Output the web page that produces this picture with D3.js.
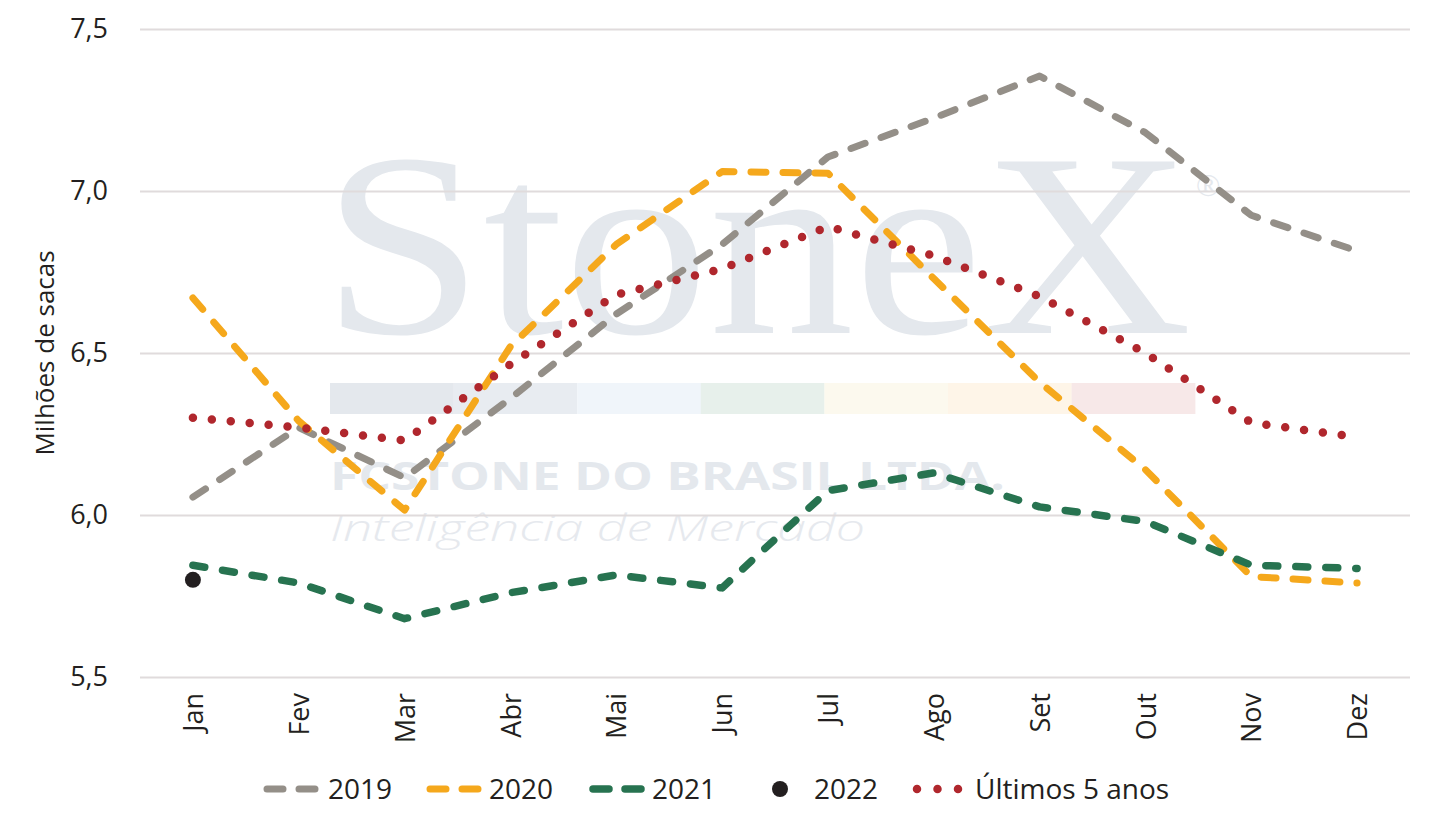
<!DOCTYPE html>
<html><head><meta charset="utf-8">
<script src="https://cdn.jsdelivr.net/npm/d3@7"></script>
<style>
html,body{margin:0;padding:0;background:#fff;}
svg{display:block;font-family:"Open Sans","Noto Sans",sans-serif;}
</style></head>
<body><svg id="c" width="1435" height="827"></svg>
<script>
const months = ["Jan","Fev","Mar","Abr","Mai","Jun","Jul","Ago","Set","Out","Nov","Dez"];
const s2019 = [6.055, 6.27, 6.115, 6.36, 6.62, 6.835, 7.105, 7.225, 7.355, 7.18, 6.925, 6.815];
const s2020 = [6.67, 6.29, 6.015, 6.52, 6.835, 7.06, 7.055, 6.73, 6.41, 6.14, 5.81, 5.79];
const s2021 = [5.845, 5.79, 5.68, 5.76, 5.815, 5.775, 6.075, 6.13, 6.025, 5.98, 5.845, 5.835];
const s2022 = [5.80];
const s5anos = [6.30, 6.27, 6.23, 6.465, 6.68, 6.76, 6.89, 6.80, 6.675, 6.50, 6.285, 6.24];
const yTicks = [5.5, 6.0, 6.5, 7.0, 7.5];
const yTitle = "Milhões de sacas";
const legendLabels = ["2019","2020","2021","2022","Últimos 5 anos"];

const svg = d3.select("#c");
const x = d3.scalePoint().domain(months).range([140, 1410]).padding(0.5);
const y = d3.scaleLinear().domain([5.5, 7.5]).range([677, 29]);
const fmt = d => d.toFixed(1).replace(".", ",");
const txtCol = "#231f20";

// watermark
const wm = svg.append("g");
wm.append("text").attr("x", 322).attr("y", 333)
  .attr("font-family", "'Liberation Serif','DejaVu Serif',serif")
  .attr("font-size", 262).attr("fill", "#e4e8ed")
  .attr("textLength", 870).attr("lengthAdjust", "spacingAndGlyphs")
  .text("StoneX");
wm.append("text").attr("x", 1196).attr("y", 196)
  .attr("font-family", "'Liberation Serif',serif").attr("font-size", 32)
  .attr("fill", "#e4e8ed").text("®");
const barCols = ["#e4e8ed","#e8ecf1","#f0f5fa","#e7f0eb","#fcf9ee","#fef5e8","#f7e8e8"];
barCols.forEach((c,i)=>{
  wm.append("rect").attr("x", 330 + i*123.6).attr("y", 383).attr("width", 123.8).attr("height", 31).attr("fill", c);
});
wm.append("text").attr("x", 330).attr("y", 490)
  .attr("font-family", "'Open Sans',sans-serif").attr("font-weight", 700)
  .attr("font-size", 40).attr("fill", "#e4e8ed")
  .attr("textLength", 675).attr("lengthAdjust", "spacingAndGlyphs")
  .text("FCSTONE DO BRASIL LTDA.");
wm.append("text").attr("x", 330).attr("y", 541)
  .attr("font-family", "'Open Sans',sans-serif").attr("font-weight", 300).attr("font-style", "italic")
  .attr("font-size", 37).attr("fill", "#e6e9ee")
  .attr("textLength", 535).attr("lengthAdjust", "spacingAndGlyphs")
  .text("Inteligência de Mercado");

// grid
const yAxis = d3.axisLeft(y).tickValues(yTicks).tickFormat(fmt).tickSize(-1270).tickPadding(32);
const gy = svg.append("g").attr("transform", "translate(140,0)").call(yAxis);
gy.select(".domain").remove();
gy.selectAll(".tick line").attr("stroke", "#e0dbdc").attr("stroke-width", 2);
gy.selectAll(".tick text").attr("font-size", 27).attr("fill", txtCol)
  .attr("font-family", "'Open Sans',sans-serif");

// x axis labels
const xAxis = d3.axisBottom(x).tickSize(0).tickPadding(0);
const gx = svg.append("g").attr("transform", "translate(0,693)").call(xAxis);
gx.select(".domain").remove();
gx.selectAll(".tick text").attr("font-size", 27).attr("fill", txtCol)
  .attr("font-family", "'Open Sans',sans-serif")
  .attr("text-anchor", "end").attr("y", 0).attr("x", 0)
  .attr("transform", "rotate(-90)").attr("dy", "0.36em");

// y title
svg.append("text").attr("transform", "translate(54,353) rotate(-90)")
  .attr("text-anchor", "middle").attr("font-size", 26).attr("fill", txtCol)
  .text(yTitle);

const line = d3.line().x((d,i)=>x(months[i])).y(d=>y(d));
const series = [
  {data:s2019, color:"#948f88", w:7, dash:"15,17"},
  {data:s2020, color:"#f5a81c", w:7, dash:"15,17"},
  {data:s2021, color:"#277350", w:7.5, dash:"12,18"},
  {data:s5anos, color:"#b0272d", w:8.5, dash:"0,19"}
];
series.forEach(s=>{
  svg.append("path").datum(s.data).attr("d", line)
    .attr("fill","none").attr("stroke", s.color).attr("stroke-width", s.w)
    .attr("stroke-dasharray", s.dash).attr("stroke-linecap","round").attr("stroke-linejoin","round");
});
svg.selectAll(".p22").data(s2022).enter().append("circle")
  .attr("cx",(d,i)=>x(months[i])).attr("cy", d=>y(d)).attr("r", 8).attr("fill", txtCol);

// legend
const lg = svg.append("g");
const items = [
  {sx:264, tx:328, color:"#948f88", type:"dash", w:7},
  {sx:427, tx:489, color:"#f5a81c", type:"dash", w:7},
  {sx:590, tx:652, color:"#277350", type:"dash", w:7.5},
  {sx:772, tx:814, color:txtCol, type:"dot"},
  {sx:917, tx:975, color:"#b0272d", type:"dots"}
];
items.forEach((it,i)=>{
  const cy = 789;
  if (it.type === "dash") {
    lg.append("line").attr("x1", it.sx+3).attr("x2", it.sx+52).attr("y1", cy).attr("y2", cy)
      .attr("stroke", it.color).attr("stroke-width", it.w).attr("stroke-dasharray","16,16")
      .attr("stroke-linecap","round");
  } else if (it.type === "dot") {
    lg.append("circle").attr("cx", it.sx+8).attr("cy", cy).attr("r", 8).attr("fill", it.color);
  } else {
    lg.append("line").attr("x1", it.sx).attr("x2", it.sx+42).attr("y1", cy).attr("y2", cy)
      .attr("stroke", it.color).attr("stroke-width", 8.5).attr("stroke-dasharray","0,20.5")
      .attr("stroke-linecap","round");
  }
  lg.append("text").attr("x", it.tx).attr("y", cy).attr("dy","0.36em")
    .attr("font-size", 28).attr("fill", txtCol).text(legendLabels[i]);
});
</script></body></html>
